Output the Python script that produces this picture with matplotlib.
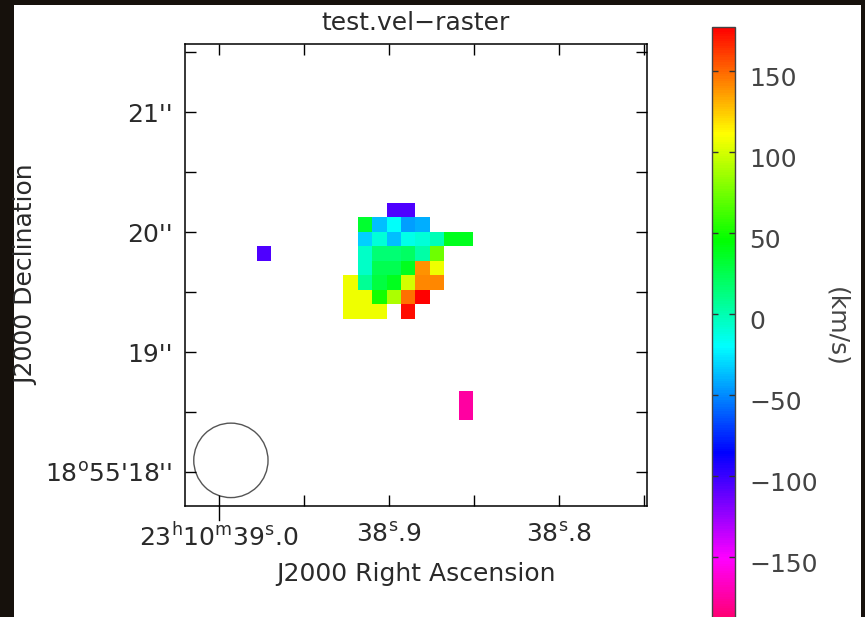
import numpy as np
import matplotlib
matplotlib.use("Agg")
import matplotlib.pyplot as plt
import matplotlib.colors as mcolors
import matplotlib.patches as mpatches
import matplotlib.transforms as mtransforms

plt.rcParams["font.family"] = ["DejaVu Sans"]
plt.rcParams["mathtext.fontset"] = "dejavusans"
plt.rcParams["mathtext.default"] = "regular"

# ── Data ───────────────────────────────────────────────────────────────────────
# velocity raster (km/s), rows top→bottom, 15 x 15 cells, NaN = blank
nan = np.nan
VEL = [
    [nan, nan, nan, nan, nan, nan, nan, nan, nan, -106, -106, nan, nan, nan, nan],
    [nan, nan, nan, nan, nan, nan, nan, 33, -36, -19, -45, -40, nan, nan, nan],
    [nan, nan, nan, nan, nan, nan, nan, -32, -10, -36, -14, -10, -1, 38, 38],
    [-106, nan, nan, nan, nan, nan, nan, -6, 16, 16, 20, 3, 73, nan, nan],
    [nan, nan, nan, nan, nan, nan, nan, -6, 25, 25, 38, 138, 107, nan, nan],
    [nan, nan, nan, nan, nan, nan, 107, 7, 29, 38, 99, 142, 142, nan, nan],
    [nan, nan, nan, nan, nan, nan, 107, 107, 51, 90, 147, 177, nan, nan, nan],
    [nan, nan, nan, nan, nan, nan, 107, 107, 107, nan, 173, nan, nan, nan, nan],
    [nan] * 15,
    [nan] * 15,
    [nan] * 15,
    [nan] * 15,
    [nan] * 15,
    [nan, nan, nan, nan, nan, nan, nan, nan, nan, nan, nan, nan, nan, nan, -175],
    [nan, nan, nan, nan, nan, nan, nan, nan, nan, nan, nan, nan, nan, nan, -175],
]

DEC_DEG = 18.92             # field declination (deg)
RA_LEFT = 38.9775           # left edge of raster (s of RA, 23h10m)
DEC_TOP = 20.239            # top edge of raster (arcsec, 18°55')
CELL = 0.12                 # cell size (arcsec)

BEAM_RA, BEAM_DEC, BEAM_D = 38.993, 18.10, 0.62   # beam centre / diameter (")

VMIN, VMAX = -193, 177
CB_TICKS = [-150, -100, -50, 0, 50, 100, 150]

X_TICKS = [39.0, 38.9, 38.8]
X_LABELS = [r"23$^{h}$10$^{m}$39$^{s}$.0", r"38$^{s}$.9", r"38$^{s}$.8"]
X_MINOR = [38.95, 38.85, 38.75]
Y_TICKS = [18, 19, 20, 21]
Y_LABELS = [r"18$^{o}$55'18''", "19''", "20''", "21''"]
Y_MINOR = [18.5, 19.5, 20.5, 21.5]

# ── Style ──────────────────────────────────────────────────────────────────────
W, H = 865, 617
C_TEXT = "#2a2a2a"
C_CBTXT = "#444444"
FS = 18

hue = np.linspace(338 / 360, 0, 256)
cmap = mcolors.ListedColormap(
    mcolors.hsv_to_rgb(np.stack([hue, np.ones_like(hue), np.ones_like(hue)], axis=1)))

fig = plt.figure(figsize=(W / 100, H / 100), dpi=100)
fig.patch.set_facecolor("#16110c")
fig.add_artist(mpatches.Rectangle((14 / W, 0), (861 - 14) / W, 1 - 5 / H,
                                  transform=fig.transFigure, fc="white", ec="none", zorder=0))

ax = fig.add_axes([185 / W, 1 - 506 / H, (647 - 185) / W, (506 - 44) / H])

cell_ra = CELL / 15 / np.cos(np.radians(DEC_DEG))
vel = np.array(VEL, dtype=float)
nr, nc = vel.shape
extent = [RA_LEFT, RA_LEFT - nc * cell_ra, DEC_TOP - nr * CELL, DEC_TOP]
im = ax.imshow(vel, cmap=cmap, vmin=VMIN, vmax=VMAX, extent=extent,
               origin="upper", interpolation="nearest", aspect="auto")

beam = mpatches.Ellipse((BEAM_RA, BEAM_DEC), BEAM_D / 15 / np.cos(np.radians(DEC_DEG)),
                        BEAM_D, fc="none", ec="#555555", lw=1.0)
ax.add_patch(beam)

ax.set_xlim(39.02, 38.7482)
ax.set_ylim(17.72, 21.567)

ax.set_xticks(X_TICKS)
ax.set_xticklabels(X_LABELS)
ax.set_xticks(X_MINOR, minor=True)
ax.set_yticks(Y_TICKS)
ax.set_yticklabels(Y_LABELS)
ax.set_yticks(Y_MINOR, minor=True)
for which in ("major", "minor"):
    ax.tick_params(which=which, direction="in", length=8, width=1.0, color="black",
                   top=True, right=True, labelsize=FS, labelcolor=C_TEXT)
ax.tick_params(axis="x", which="major", pad=12)
ax.tick_params(axis="y", which="major", pad=9)
for s in ax.spines.values():
    s.set_linewidth(1.1)

# outward stub at the first RA label
trans = mtransforms.blended_transform_factory(ax.transData, ax.transAxes)
ax.plot([X_TICKS[0], X_TICKS[0]], [0, -0.03], transform=trans, color="black",
        lw=1.0, clip_on=False)

ax.set_title("test.vel\u2212raster", fontsize=FS, color=C_TEXT, pad=10)
ax.set_xlabel("J2000 Right Ascension", fontsize=FS, color=C_TEXT, labelpad=8)
ax.set_ylabel("J2000 Declination", fontsize=FS, color=C_TEXT)
ax.yaxis.set_label_coords((38 - 185) / 462, 0.5)

# ── Colour bar ─────────────────────────────────────────────────────────────────
cax = fig.add_axes([712 / W, 1 - 627 / H, 23 / W, (627 - 27) / H])
cb = fig.colorbar(im, cax=cax, ticks=CB_TICKS)
cb.outline.set_edgecolor("#444444")
cb.outline.set_linewidth(1.0)
cax.tick_params(direction="in", length=4, width=1.0, color="#333333",
                left=True, right=True, labelleft=False, labelright=True,
                labelsize=FS, labelcolor=C_CBTXT, pad=10)
shift = mtransforms.ScaledTranslation(0, -4 / 72, fig.dpi_scale_trans)
for lab in cax.get_yticklabels():
    lab.set_transform(lab.get_transform() + shift)
cb.set_label("(km/s)", fontsize=FS, color=C_CBTXT, rotation=270, labelpad=22)

fig.savefig("out.png", dpi=100, facecolor=fig.get_facecolor())
